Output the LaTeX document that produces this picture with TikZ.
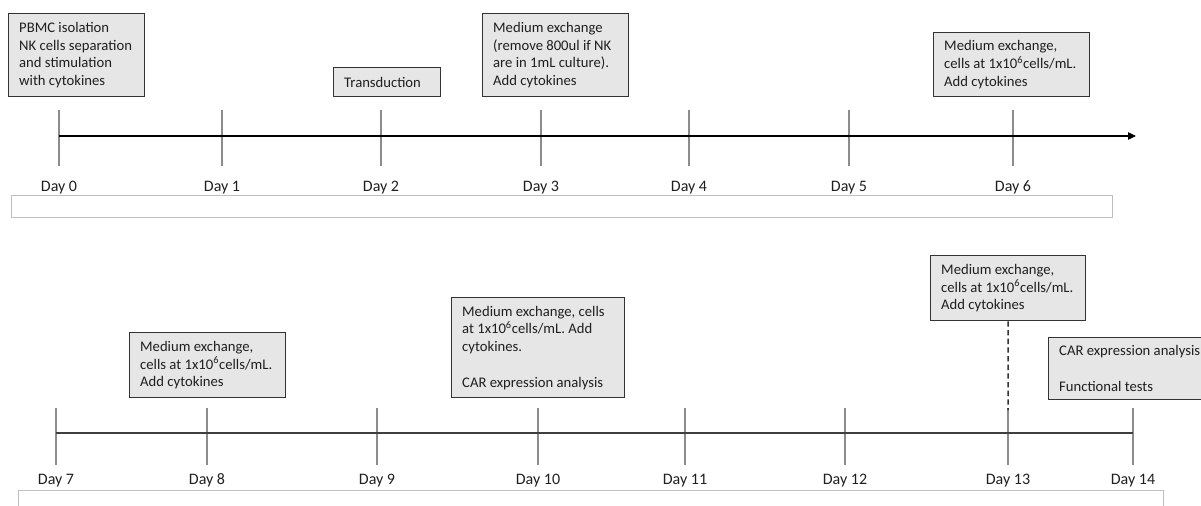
\documentclass[tikz,border=0pt]{standalone}
\usepackage{fontspec}
\setmainfont{Carlito}
\usetikzlibrary{arrows.meta,calc}
\definecolor{boxfill}{HTML}{E6E6E6}
\definecolor{boxline}{HTML}{333333}
\definecolor{tickc}{HTML}{8C8C8C}
\definecolor{framec}{HTML}{BFBFBF}
\definecolor{txtc}{HTML}{1F1F1F}
\definecolor{axis2}{HTML}{3F3F3F}
\begin{document}
\begin{tikzpicture}[x=0.75pt,y=-0.75pt,
  box/.style={draw=boxline, line width=1pt, fill=boxfill, anchor=north west, inner sep=0pt},
  txt/.style={anchor=west, inner sep=0pt, align=left, text=txtc, font=\fontsize{11}{13.3}\selectfont},
  day/.style={anchor=base, inner sep=0pt, text=txtc, font=\fontsize{12}{14}\selectfont},
  tick/.style={draw=tickc, line width=0.8pt},
  axisA/.style={draw=black, line width=1pt},
  axisB/.style={draw=axis2, line width=1.5pt},
  frame/.style={draw=framec, line width=0.75pt},
  dashline/.style={draw=boxline, line width=1.1pt, dash pattern=on 4pt off 2.5pt}]
\useasboundingbox (0,0) rectangle (1201,506);
\clip (0,0) rectangle (1201,506);

% ---------- top row ----------
\foreach \x/\n in {59/0,222/1,381/2,541/3,689/4,849/5,1013/6} {
  \draw[tick] (\x,110) -- (\x,166);
  \node[day] (d\n) at (\x,191) {Day \n};
}
\coordinate (k0) at (59,136);
\coordinate (kend) at (1136,136);
\draw[axisA,-{Triangle[length=6pt,width=5.5pt]}] (k0) -- (kend);
\draw[frame] (11.5,195) rectangle (1112,217);

\node[box, minimum width=102pt, minimum height=62.25pt] (b0) at (8,13) {};
\node[txt] (t0) at ([xshift=8.2pt]b0.west) {PBMC isolation\\NK cells separation\\and stimulation\\with cytokines};

\node[box, minimum width=80.25pt, minimum height=21.75pt] (b2) at (333,67) {};
\node[txt] (t2) at ([xshift=8.2pt]b2.west) {Transduction};

\node[box, minimum width=109.5pt, minimum height=62.25pt] (b3) at (482,13) {};
\node[txt] (t3) at ([xshift=8.2pt]b3.west) {Medium exchange\\(remove 800ul if NK\\are in 1mL culture).\\Add cytokines};

\node[box, minimum width=117pt, minimum height=48pt] (b6) at (933,32) {};
\node[txt] (t6) at ([xshift=8.2pt]b6.west) {Medium exchange,\\cells at 1x10\textsuperscript{6}cells/mL.\\Add cytokines};

% ---------- bottom row ----------
\foreach \x/\n in {56/7,207/8,377/9,538/10,685/11,845/12,1008/13,1133/14} {
  \draw[tick] (\x,408) -- (\x,465);
  \node[day] (d\n) at (\x,484) {Day \n};
}
\coordinate (k7) at (56,433);
\coordinate (k14) at (1133,433);
\draw[axisB] (k7) -- (k14);
\draw[frame] (18,490) rectangle (1163,530);

\node[box, minimum width=117pt, minimum height=48.75pt] (b8) at (129,332) {};
\node[txt] (t8) at ([xshift=8.2pt]b8.west) {Medium exchange,\\cells at 1x10\textsuperscript{6}cells/mL.\\Add cytokines};

\node[box, minimum width=129.75pt, minimum height=75pt] (b10) at (451,297) {};
\node[txt] (t10) at ([xshift=8.2pt]b10.west) {Medium exchange, cells\\at 1x10\textsuperscript{6}cells/mL. Add\\cytokines.\\[13.3pt]CAR expression analysis};

\node[box, minimum width=116.25pt, minimum height=48.75pt] (b13) at (930,255) {};
\node[txt] (t13) at ([xshift=8.2pt]b13.west) {Medium exchange,\\cells at 1x10\textsuperscript{6}cells/mL.\\Add cytokines};
\coordinate (k13) at (1008,410);
\draw[dashline] (b13.south) -- (k13);

\node[box, minimum width=140pt, minimum height=46.5pt] (b14) at (1048,337) {};
\node[txt] (t14) at ([xshift=8.2pt]b14.west) {CAR expression analysis\\[13.3pt]Functional tests};
\end{tikzpicture}
\end{document}
